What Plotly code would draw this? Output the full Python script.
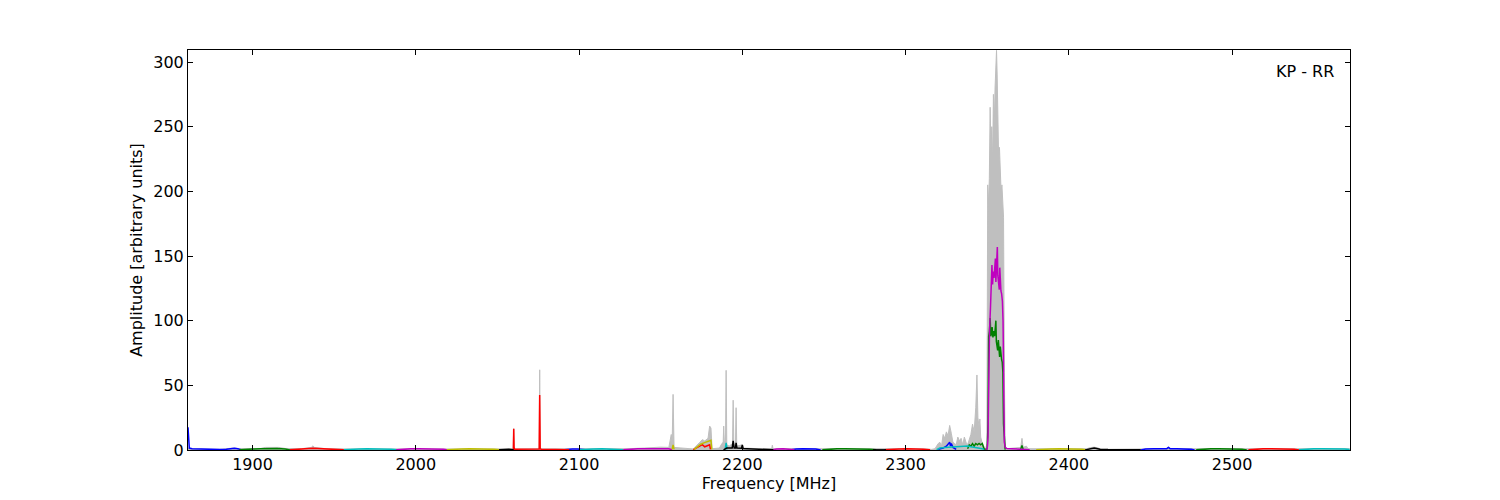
import plotly.graph_objects as go

N = None

# ---- data: frequency [MHz] / amplitude, per colour (None separates bands) ----
gray_freq = [1860.5, 1862, 1880, 1888, 1892, 1905, 1908, 1912, 1916, 1920, 1930, 1936, 1937, 1938, 1945,
             1960, 2000, 2015, 2040, 2059.6, 2060.0, 2060.4, 2075.6, 2075.9, 2076.2, 2095, 2110, 2130,
             2140, 2145, 2150, 2155, 2156.5, 2157.0, 2157.6, 2158.2, 2165, 2170, 2174, 2175.5, 2177, 2179,
             2180, 2180.8, 2181.5, 2186, 2187.5, 2188.3, 2188.6, 2189.0, 2189.7, 2190.1, 2190.5, 2192,
             2194.0, 2194.4, 2194.8, 2195.8, 2196.2, 2196.6, 2200, 2200.5, 2210, 2218, 2218.4, 2218.8,
             2240, 2280, 2300, 2310, 2316,
             2318, 2320, 2321, 2322, 2323, 2324, 2325, 2326, 2327, 2328, 2329, 2330, 2331, 2332, 2333,
             2334, 2335, 2336, 2337, 2338, 2339, 2340, 2341, 2342, 2343, 2343.7, 2344.3, 2345, 2345.5,
             2346, 2347, 2348, 2349.0,
             2349.8, 2350.3, 2350.8, 2351.3, 2351.8, 2352.3, 2352.8, 2353.3, 2353.8, 2354.3, 2354.8,
             2355.3, 2355.7, 2356.1, 2356.6, 2357.0, 2357.5, 2358.0, 2358.5, 2359.0, 2359.5, 2360.0,
             2360.5, 2361.0, 2362, 2368, 2370.5, 2371.3, 2372, 2374, 2375, 2390, 2411, 2413, 2415.5,
             2418, 2420, 2460, 2461, 2462, 2572.0]
gray_amp = [1.5, 1.0, 0.5, 1.5, 1.0, 1.2, 2.0, 2.2, 2.0, 1.2, 1.0, 2.0, 3.2, 2.0, 1.0,
            0.8, 1.0, 1.0, 1.0, 0.8, 16.5, 0.8, 0.9, 62, 0.9, 0.8, 1.0, 1.0,
            1.5, 2.0, 2.2, 2.0, 12, 3, 43, 2, 1.0, 0.8, 6, 8, 7, 9,
            18.5, 17, 1, 1.5, 5, 6, 18.5, 6, 6, 61.6, 4, 3,
            5, 38.5, 4, 4, 32.7, 3, 4, 1.5, 1, 1, 3.7, 1,
            1.0, 1.0, 1.2, 1.0, 0.5,
            1, 5, 6, 3, 12, 9, 14, 11, 19, 13, 6, 5, 4, 10, 7,
            9, 4, 10, 6, 4, 8, 12, 20, 14, 33, 58, 25, 18, 24,
            10, 5, 2, 0.5,
            5, 205, 190, 210, 265, 230, 250, 220, 275, 250, 280,
            300, 309, 290, 240, 225, 234, 215, 200, 205, 190, 180,
            60, 2, 1, 1.5, 2, 9, 2, 3, 1, 0.9, 1, 1.8, 2.2,
            1.5, 0.5, 1.0, 2.5, 1, 1]

blue_freq = [1860.5, 1860.8, 1861.3, 1863, 1866, 1870, 1875, 1880, 1884, 1887, 1889, 1891, 1892.5, 1893.5, N,
             2091, 2093, 2096, 2099, 2102, 2104, N,
             2230, 2233, 2237, 2241, 2245, 2248, N,
             2320, 2323, 2325, 2326, 2327, 2327.5, 2328, 2329, 2331, N,
             2444, 2447, 2452, 2456, 2460, 2461, 2462, 2466, 2471, 2475, 2477]
blue_amp = [17.5, 6, 1.5, 1.0, 0.8, 0.4, 0.2, 0.3, 0.6, 1.1, 1.3, 1.0, 0.4, 0.1, N,
            0.2, 0.6, 0.8, 0.8, 0.5, 0.1, N,
            0.2, 0.8, 1.0, 1.0, 0.7, 0.1, N,
            0.5, 1.5, 3, 5, 6, 3, 5, 2, 0.5, N,
            0.1, 0.7, 0.9, 0.9, 1.0, 2.0, 1.0, 1.0, 0.9, 0.5, 0.1]

green_freq = [1892, 1895, 1900, 1905, 1910, 1915, 1920, 1923, N,
              2249, 2253, 2258, 2263, 2268, 2273, 2278, 2282, N,
              2338, 2339, 2340, 2341, 2342, 2343, 2344, 2345, 2346, 2347, 2348, 2349, N,
              2349.0, 2350.0, 2350.5, 2350.9, 2351.4, 2351.8, 2352.2, 2352.6, 2353.0, 2353.5, 2354.0,
              2354.5, 2355.0, 2355.3, 2355.6, 2356.0, 2356.4, 2356.8, 2357.2, 2357.6, 2358.0, 2358.4,
              2358.8, 2359.2, 2359.6, 2360.0, 2360.5, 2361, N,
              2370.5, 2371.3, 2372, N,
              2478, 2482, 2487, 2492, 2497, 2502, 2506, 2509]
green_amp = [0.1, 0.5, 0.7, 0.9, 1.2, 1.2, 0.8, 0.1, N,
             0.1, 0.6, 0.9, 1.0, 1.0, 0.9, 0.6, 0.1, N,
             1, 4, 3, 5, 3, 5, 4, 5, 4, 5, 1, 0.3, N,
             0.3, 1, 20, 88, 92, 102, 88, 90, 95, 87, 92,
             88, 95, 100, 84, 80, 77, 85, 78, 72, 80, 71,
             70, 68, 60, 20, 2, 0.3, N,
             0.5, 3.5, 0.5, N,
             0.1, 0.7, 0.9, 1.0, 1.0, 0.9, 0.6, 0.1]

red_freq = [1923, 1927, 1932, 1937, 1942, 1947, 1952, 1956, N,
            2059.8, 2060.0, 2060.2, 2060.5, 2064, 2070, 2075.6, 2075.9, 2076.2, 2077, 2082, 2088, 2092, 2094, N,
            2170, 2172, 2174, 2175.5, 2177, 2178.5, 2180, 2180.5, N,
            2287, 2291, 2296, 2301, 2306, 2311, 2315, N,
            2510, 2514, 2519, 2524, 2529, 2534, 2538, 2541]
red_amp = [0.1, 0.7, 0.9, 1.3, 1.0, 0.9, 0.6, 0.1, N,
           0.3, 16.5, 2, 0.6, 0.6, 0.6, 0.8, 42.5, 0.8, 0.6, 0.6, 0.6, 0.4, 0.1, N,
           0.3, 1.5, 3, 4.2, 2.5, 3, 4.0, 0.5, N,
           0.1, 0.6, 0.8, 0.9, 0.9, 0.6, 0.1, N,
           0.1, 0.7, 0.9, 1.0, 1.0, 0.9, 0.6, 0.1]

cyan_freq = [1956, 1960, 1965, 1970, 1975, 1980, 1985, 1989, N,
             2100, 2104, 2109, 2114, 2119, 2124, 2127, N,
             2189.5, 2190.1, 2190.7, N,
             2319, 2321, 2324, 2330, 2335, 2338, 2340, 2343, 2347, 2348, N,
             2541, 2545, 2550, 2555, 2560, 2565, 2569, 2572.0]
cyan_amp = [0.1, 0.6, 0.8, 0.9, 0.9, 0.8, 0.6, 0.1, N,
            0.1, 0.6, 0.8, 0.9, 0.8, 0.5, 0.1, N,
            0.5, 5.5, 0.5, N,
            0.3, 1.5, 2, 2.5, 2.5, 3, 2.5, 2, 1, 0.3, N,
            0.1, 0.7, 0.9, 1.0, 1.0, 0.9, 0.7, 0.3]

magenta_freq = [1988, 1992, 1997, 2002, 2007, 2012, 2017, 2020, N,
                2127, 2131, 2136, 2141, 2146, 2151, 2155, 2157, N,
                2218, 2221, 2225, 2229, 2232, N,
                2349.0, 2350.0, 2350.5, 2351.0, 2351.4, 2352.0, 2352.6, 2352.9, 2353.3, 2353.7, 2354.2,
                2354.6, 2355.0, 2355.3, 2355.6, 2356.0, 2356.2, 2356.5, 2356.8, 2357.1, 2357.4, 2357.7,
                2358.0, 2358.4, 2358.8, 2359.3, 2359.7, 2360.1, 2360.5, 2361.0, 2362, 2365, 2370, 2373,
                2375, 2376]
magenta_amp = [0.1, 0.6, 0.9, 1.0, 1.0, 0.9, 0.6, 0.1, N,
               0.1, 0.7, 0.9, 1.0, 1.1, 1.1, 0.9, 0.2, N,
               0.1, 0.7, 0.9, 0.8, 0.2, N,
               0.5, 1.0, 10, 75, 92, 110, 130, 143, 128, 138, 133,
               145, 148, 130, 136, 150, 157, 135, 128, 125, 124, 141,
               130, 123, 121, 115, 100, 40, 6, 2, 1.2, 1.0, 0.8, 0.8,
               0.5, 0.1]

yellow_freq = [2019, 2023, 2028, 2033, 2038, 2043, 2048, 2051.5, N,
               2157.0, 2157.6, 2158.2, N,
               2170.5, 2172.5, 2174.5, 2176.5, 2178, 2179.5, 2180.8, 2181.3, N,
               2380, 2384, 2389, 2394, 2399, 2404, 2408, 2411]
yellow_amp = [0.1, 0.6, 0.8, 0.9, 0.9, 0.8, 0.5, 0.1, N,
              0.5, 4.0, 0.5, N,
              0.5, 2.5, 4.5, 5.5, 6, 7, 7.5, 0.5, N,
              0.1, 0.6, 0.8, 0.9, 0.9, 0.8, 0.6, 0.1]

black_freq = [2051, 2054, 2057, 2060, N,
              2188.5, 2189.6, 2190.5, 2192, 2193.8, 2194.4, 2195, 2195.8, 2196.2, 2196.7, 2198, 2199.5,
              2200, 2200.5, 2203, 2207, 2212, 2216, 2219, N,
              2280, 2283, 2286, 2288, N,
              2410, 2412, 2414, 2415.5, 2417, 2419, 2424, 2430, 2436, 2441, 2444]
black_amp = [0.1, 0.5, 0.6, 0.2, N,
             0.1, 1.0, 1.5, 1.5, 1.5, 7.0, 1.5, 1.5, 5.5, 1.5, 1.3, 1.3,
             4.0, 1.2, 1.0, 0.8, 0.6, 0.4, 0.1, N,
             0.1, 0.3, 0.3, 0.1, N,
             0.1, 0.6, 1.3, 1.6, 1.2, 0.6, 0.3, 0.2, 0.3, 0.4, 0.1]

x_ticks = [1900, 2000, 2100, 2200, 2300, 2400, 2500]
y_ticks = [0, 50, 100, 150, 200, 250, 300]
x_range = [1860.5, 2572.2]
y_range = [0, 309.3]
label_text = "KP - RR"

series = [
    (blue_freq, blue_amp, "#0000ff"),
    (green_freq, green_amp, "#008000"),
    (red_freq, red_amp, "#ff0000"),
    (cyan_freq, cyan_amp, "#00bfbf"),
    (magenta_freq, magenta_amp, "#bf00bf"),
    (yellow_freq, yellow_amp, "#bfbf00"),
    (black_freq, black_amp, "#000000"),
]

fig = go.Figure()
fig.add_trace(go.Scatter(x=gray_freq, y=gray_amp, mode="lines",
                         line=dict(color="#bfbfbf", width=1),
                         fill="tozeroy", fillcolor="#bfbfbf", showlegend=False, hoverinfo="skip"))
for fx, fy, col in series:
    fig.add_trace(go.Scatter(x=fx, y=fy, mode="lines", connectgaps=False,
                             line=dict(color=col, width=1.5), showlegend=False))

font = dict(family="DejaVu Sans", size=16, color="black")
axis_common = dict(showline=True, linecolor="black", linewidth=1, mirror="ticks",
                   ticks="inside", ticklen=5, tickwidth=1, tickcolor="black",
                   showgrid=False, zeroline=False, tickfont=font)

# the page body adds an 8px margin, so the figure is 1492x492 and margins are shifted
fig.update_layout(
    width=1492, height=492,
    margin=dict(l=179.5, r=150, t=42, b=50, autoexpand=False),
    paper_bgcolor="white", plot_bgcolor="white",
    font=font,
    xaxis=dict(range=x_range, tickvals=x_ticks, ticktext=[str(v) for v in x_ticks],
               title=dict(text="Frequency [MHz]", font=font, standoff=1), **axis_common),
    yaxis=dict(range=y_range, tickvals=y_ticks, ticktext=[str(v) for v in y_ticks],
               title=dict(text="Amplitude [arbitrary units]", font=font, standoff=6), **axis_common),
    annotations=[dict(text=label_text, xref="paper", yref="paper", x=0.988, y=0.975,
                      xanchor="right", yanchor="top", showarrow=False, font=font)],
)

fig.write_html("out.html")
